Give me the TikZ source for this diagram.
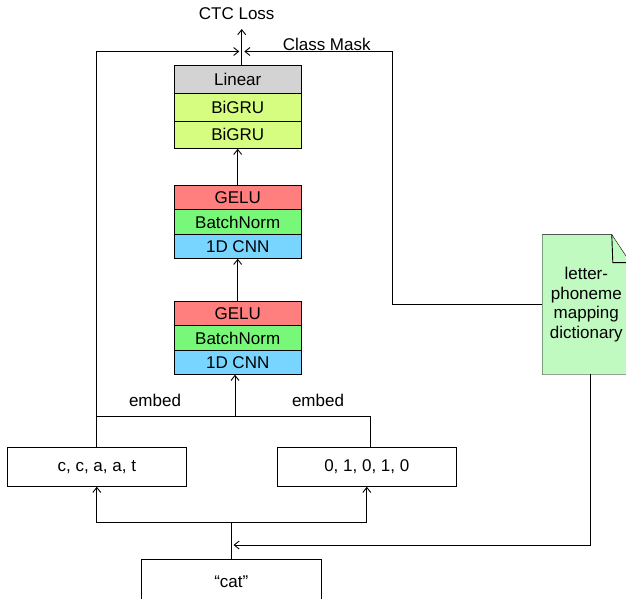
\documentclass[tikz,border=0pt]{standalone}
\usepackage{fontspec}
\setmainfont{Liberation Sans}
\usetikzlibrary{arrows.meta,backgrounds}
\definecolor{lingray}{HTML}{D3D3D3}
\definecolor{gruyellow}{HTML}{D6FD80}
\definecolor{gelured}{HTML}{FF7F7F}
\definecolor{bngreen}{HTML}{78F878}
\definecolor{cnnblue}{HTML}{78D5FF}
\definecolor{dictgreen}{HTML}{C1FAC1}
\begin{document}
\begin{tikzpicture}[x=1pt,y=-1pt,>={Straight Barb[length=5pt,width=8pt]},
  font=\fontsize{17}{19.5}\selectfont, line width=0.9pt,
  layer/.style={draw, minimum width=127pt, minimum height=24.2pt, inner sep=0pt},
  inbox/.style={draw, minimum width=179.7pt, minimum height=39pt, inner sep=0pt}]
\useasboundingbox (0,0) rectangle (626,598);
\node[layer, fill=lingray, minimum height=28pt] (linear) at (237.7,79.7) {Linear};
\node[layer, fill=gruyellow, minimum height=27.3pt] (gru1) at (237.7,107.3) {BiGRU};
\node[layer, fill=gruyellow, minimum height=27.3pt] (gru2) at (237.7,134.7) {BiGRU};
\node[layer, fill=gelured] (gelu1) at (237.7,197.8) {GELU};
\node[layer, fill=bngreen] (bn1) at (237.7,222) {BatchNorm};
\node[layer, fill=cnnblue] (cnn1) at (237.7,246.2) {1D CNN};
\node[layer, fill=gelured] (gelu2) at (237.7,313.8) {GELU};
\node[layer, fill=bngreen] (bn2) at (237.7,338) {BatchNorm};
\node[layer, fill=cnnblue] (cnn2) at (237.7,362.2) {1D CNN};
\node[inbox] (letters) at (96.8,466.8) {c, c, a, a, t};
\node[inbox] (mask) at (366.8,466.8) {0, 1, 0, 1, 0};
\node[inbox, minimum height=44pt] (cat) at (231.3,581.3) {“cat”};
\node[align=center, minimum width=87.3pt, minimum height=139pt, inner sep=0pt] (dict) at (586.3,304.5) {letter-\\phoneme\\mapping\\dictionary};
\begin{scope}[on background layer]
\draw[fill=dictgreen] (dict.south west) -- (dict.north west) -- ([xshift=-18.6pt]dict.north east)
  -- ([yshift=-28pt]dict.north east) -- (dict.south east) -- cycle;
\end{scope}
\draw ([xshift=-18.6pt]dict.north east) -- ([xshift=-17.6pt,yshift=-28pt]dict.north east) -- ([yshift=-28pt]dict.north east);
\node (loss) at (236.7,13.3) {CTC Loss};
\node (clsmask) at (326.7,44.2) {Class Mask};
\node (embL) at (155,400.6) {embed};
\node (embR) at (318,400.6) {embed};
\coordinate (ctc) at (241.7,29);
\coordinate (inL) at (239.3,51.5);
\coordinate (inR) at (244.3,51.5);
\coordinate (turn) at (392.3,51.5);
\coordinate (merge) at (235,416.7);
\coordinate (split) at (231.3,522.3);
\coordinate (dictin) at (233.5,545);
\draw[->] (linear.north -| ctc) -- (ctc);
\draw[->] (letters.north) |- (inL);
\draw[->] (dict.west) -| (turn) -- (inR);
\draw[->] (gelu1.north) -- (gru2.south);
\draw[->] (gelu2.north) -- (cnn1.south);
\draw (letters.north |- merge) -| ([xshift=3.5pt]mask.north);
\draw[->] (merge) -- (merge |- cnn2.south);
\draw (cat.north) -- (split);
\draw[->] (split) -| (letters.south);
\draw[->] (split) -| (mask.south);
\draw[->] ([xshift=3.7pt]dict.south) |- (dictin);
\end{tikzpicture}
\end{document}
